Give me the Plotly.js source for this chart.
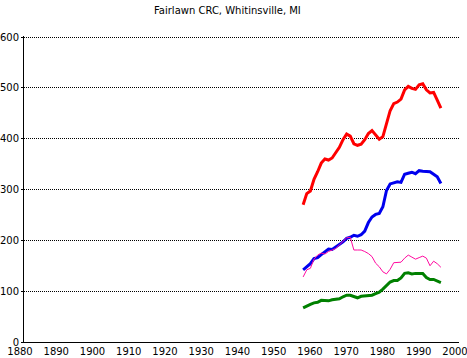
<!DOCTYPE html>
<html>
<head>
<meta charset="utf-8">
<script src="https://cdn.plot.ly/plotly-3.0.1.min.js"></script>
<style>html,body{margin:0;padding:0;background:#fff;}#chart{width:467px;height:358px;}</style>
</head>
<body>
<div id="chart"></div>
<script>
const years = [1957,1958,1959,1960,1961,1962,1963,1964,1965,1966,1967,1968,1969,1970,1971,1972,1973,1974,1975,1976,1977,1978,1979,1980,1981,1982,1983,1984,1985,1986,1987,1988,1989,1990,1991,1992,1993,1994,1995];
const redSeries = [270,292,297,320,335,352,360,358,362,372,383,398,409,405,390,387,389,398,410,416,408,399,404,428,455,469,472,478,496,503,499,497,506,508,496,490,491,476,460];
const blueSeries = [142,149,154,164,166,172,177,183,182,187,193,197,204,206,210,208,211,218,235,246,251,253,266,298,311,313,315,314,330,332,334,331,337,336,336,335,330,325,312];
const pinkSeries = [128,142,145,163,171,175,173,178,181,184,191,199,205,206,181,181,181,178,174,168,155,148,138,134,143,156,157,157,165,171,167,163,166,169,165,150,159,154,147];
const greenSeries = [67,71,74,77,78,82,82,81,83,84,85,89,92,92,89,87,90,91,91,92,95,98,104,112,118,121,121,126,135,136,134,135,135,135,127,123,123,120,117];
const xTicks = [1880,1890,1900,1910,1920,1930,1940,1950,1960,1970,1980,1990,2000];
const yTicks = [0,100,200,300,400,500,600];
const titleText = "Fairlawn CRC, Whitinsville, MI";

const font = {family: "DejaVu Sans, Liberation Sans, sans-serif", size: 10, color: "#000"};

const traces = [
  {x: years, y: redSeries, mode: "lines", line: {color: "#ff0000", width: 3}},
  {x: years, y: blueSeries, mode: "lines", line: {color: "#0000ee", width: 3}},
  {x: years, y: pinkSeries, mode: "lines", line: {color: "#ff0aa0", width: 1}},
  {x: years, y: greenSeries, mode: "lines", line: {color: "#008000", width: 3}}
];

const layout = {
  width: 467, height: 358,
  margin: {l: 24, r: 8, t: 36, b: 16, pad: 0},
  paper_bgcolor: "#fff", plot_bgcolor: "#fff",
  showlegend: false,
  font: font,
  title: {text: titleText, font: {family: font.family, size: 10, color: "#000"}, x: 0.487, xanchor: "center", y: 0.98, yanchor: "top"},
  xaxis: {
    range: [1880, 2000], tickmode: "array", tickvals: xTicks, ticktext: xTicks.map(String),
    showgrid: false, zeroline: false, showline: true, linecolor: "#000", linewidth: 1,
    ticks: "", ticklabelshift: -4, ticklabeloverflow: "allow",
    tickfont: {family: font.family, size: 10, color: "#000"}, fixedrange: true
  },
  yaxis: {
    range: [0, 602], tickmode: "array", tickvals: yTicks, ticktext: yTicks.map(String),
    showgrid: true, gridcolor: "#000", griddash: "1px,1px", gridwidth: 1,
    zeroline: false, showline: true, linecolor: "#000", linewidth: 1,
    ticks: "outside", ticklen: 2, tickcolor: "#000",
    tickfont: {family: font.family, size: 10, color: "#000"}, fixedrange: true
  }
};

Plotly.newPlot("chart", traces, layout, {staticPlot: true, displayModeBar: false});
</script>
</body>
</html>
